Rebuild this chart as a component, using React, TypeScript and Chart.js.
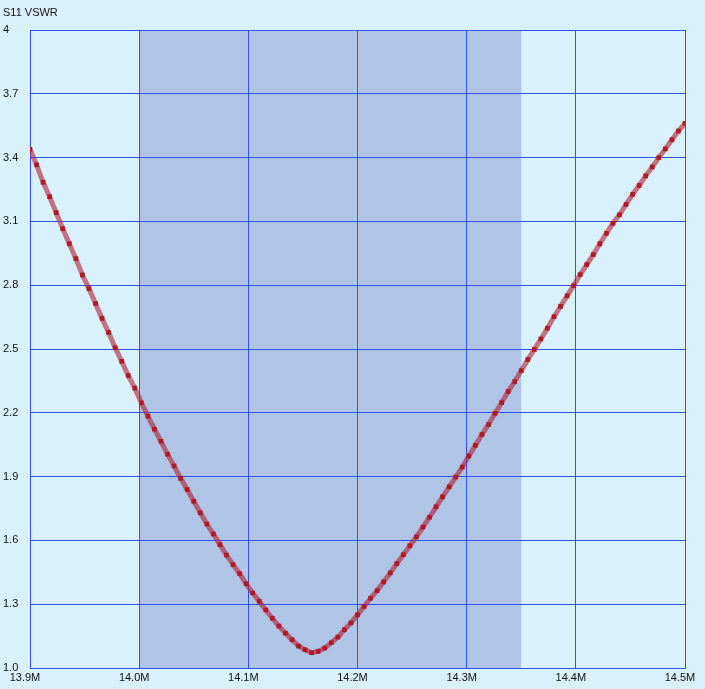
import React, { useEffect, useRef } from "react";
import { Chart, registerables } from "chart.js";

Chart.register(...registerables);

const chartTitle = "S11 VSWR";
const sweepStartMHz = 13.9;
const sweepStepMHz = 0.006;
const vswr = [
  3.439, 3.366, 3.284, 3.216, 3.141, 3.066, 2.995, 2.925, 2.848, 2.784,
  2.714, 2.644, 2.578, 2.506, 2.442, 2.375, 2.316, 2.247, 2.184, 2.123,
  2.066, 2.005, 1.95, 1.892, 1.839, 1.784, 1.73, 1.677, 1.63, 1.58,
  1.531, 1.486, 1.444, 1.396, 1.353, 1.314, 1.273, 1.234, 1.197, 1.164,
  1.133, 1.103, 1.086, 1.072, 1.078, 1.094, 1.119, 1.145, 1.18, 1.212,
  1.25, 1.289, 1.328, 1.364, 1.405, 1.447, 1.491, 1.533, 1.575, 1.617,
  1.663, 1.709, 1.758, 1.805, 1.852, 1.898, 1.945, 1.997, 2.047, 2.098,
  2.145, 2.197, 2.248, 2.3, 2.347, 2.398, 2.45, 2.498, 2.547, 2.598,
  2.652, 2.7, 2.75, 2.798, 2.85, 2.897, 2.944, 2.995, 3.044, 3.091,
  3.131, 3.18, 3.227, 3.269, 3.314, 3.356, 3.4, 3.441, 3.484, 3.525,
  3.561,
];
const xTickValues = [13.9, 14.0, 14.1, 14.2, 14.3, 14.4, 14.5];
const xTickLabels = ["13.9M", "14.0M", "14.1M", "14.2M", "14.3M", "14.4M", "14.5M"];
const yTickValues = [1.0, 1.3, 1.6, 1.9, 2.2, 2.5, 2.8, 3.1, 3.4, 3.7, 4.0];
const yTickLabels = ["1.0", "1.3", "1.6", "1.9", "2.2", "2.5", "2.8", "3.1", "3.4", "3.7", "4"];
const bandStartMHz = 14.0;
const bandEndMHz = 14.35;

const FONT = '"Liberation Sans", Arial, sans-serif';
const BG = "#d9f1fd";
const BAND = "#b0c4e6";
const GRID = "#3152fa";

export default function App() {
  const ref = useRef<HTMLCanvasElement | null>(null);

  useEffect(() => {
    document.body.style.margin = "0";
    const canvas = ref.current;
    if (!canvas) return;

    const points = vswr.map((v, i) => ({ x: sweepStartMHz + i * sweepStepMHz, y: v }));

    const bgPlugin = {
      id: "bgBand",
      beforeDraw(chart: any) {
        const { ctx, chartArea, scales } = chart;
        ctx.save();
        ctx.fillStyle = BG;
        ctx.fillRect(0, 0, chart.width, chart.height);
        const x0 = scales.x.getPixelForValue(bandStartMHz);
        const x1 = scales.x.getPixelForValue(bandEndMHz);
        ctx.fillStyle = BAND;
        ctx.fillRect(x0, chartArea.top, x1 - x0, chartArea.bottom - chartArea.top);
        ctx.restore();
      },
      afterDraw(chart: any) {
        const { ctx } = chart;
        ctx.save();
        ctx.font = `11px ${FONT}`;
        ctx.fillStyle = "#111";
        ctx.textAlign = "left";
        ctx.textBaseline = "alphabetic";
        ctx.fillText(chartTitle, 3, 16);
        ctx.restore();
      },
    };

    const chart = new Chart(canvas, {
      type: "line",
      data: {
        datasets: [
          {
            data: points,
            borderColor: "rgba(178, 30, 45, 0.6)",
            borderWidth: 5,
            tension: 0,
            pointStyle: "rect",
            pointRadius: 3.3,
            pointBorderWidth: 0,
            pointBackgroundColor: "#b01a28",
            pointHoverRadius: 3.3,
          },
        ],
      },
      options: {
        responsive: false,
        animation: false,
        devicePixelRatio: 1,
        events: [],
        layout: { padding: { left: 3, top: 30, right: 20, bottom: 0 } },
        plugins: {
          legend: { display: false },
          title: { display: false },
          tooltip: { enabled: false },
        },
        scales: {
          x: {
            type: "linear",
            min: 13.9,
            max: 14.5,
            afterBuildTicks: (s: any) => {
              s.ticks = xTickValues.map((v) => ({ value: v }));
            },
            afterFit: (s: any) => {
              s.height = 21;
            },
            grid: { color: GRID, lineWidth: 1, drawTicks: false },
            border: { color: GRID, width: 1 },
            ticks: {
              autoSkip: false,
              maxRotation: 0,
              padding: 3,
              labelOffset: -5,
              color: "#111",
              font: { family: FONT, size: 11 },
              callback: (v: any) => {
                const i = xTickValues.findIndex((t) => Math.abs(t - Number(v)) < 1e-6);
                return i >= 0 ? xTickLabels[i] : "";
              },
            },
          },
          y: {
            type: "linear",
            min: 1.0,
            max: 4.0,
            afterBuildTicks: (s: any) => {
              s.ticks = yTickValues.map((v) => ({ value: v }));
            },
            afterFit: (s: any) => {
              s.width = 27;
            },
            grid: { color: GRID, lineWidth: 1, drawTicks: false },
            border: { color: GRID, width: 1 },
            ticks: {
              autoSkip: false,
              crossAlign: "far",
              padding: 4,
              color: "#111",
              font: { family: FONT, size: 11 },
              callback: (v: any) => {
                const i = yTickValues.findIndex((t) => Math.abs(t - Number(v)) < 1e-6);
                return i >= 0 ? yTickLabels[i] : "";
              },
            },
          },
        },
      },
      plugins: [bgPlugin],
    } as any);

    return () => chart.destroy();
  }, []);

  return <canvas ref={ref} width={705} height={689} style={{ display: "block" }} />;
}
